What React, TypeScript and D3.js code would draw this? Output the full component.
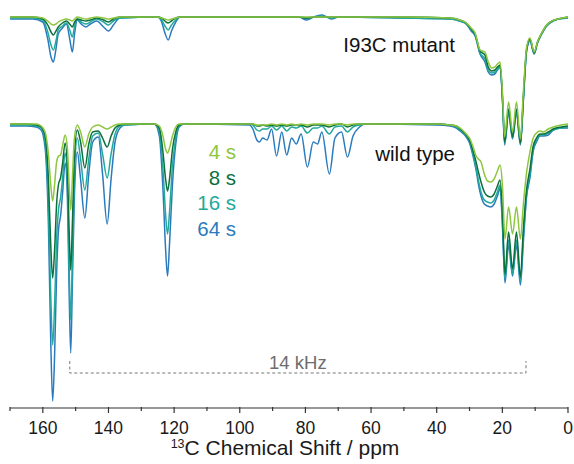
import React from 'react';
import * as d3 from 'd3';

// ---- series meta ----
const SERIES_LABELS = ['4 s', '8 s', '16 s', '64 s'];
const SERIES_COLORS = ['#8dc63f', '#0c703c', '#22a99b', '#2a7bbd'];

// ---- wild type (ppm grid and signal depth per recovery time) ----
const WT_PPM = [170, 165, 162, 160.5, 159.3, 158.3, 157.6, 157.0, 156.4, 155.8, 155.2, 154.6, 154.0, 153.2, 152.5, 152.0, 151.5, 151.0, 150.4, 149.5, 148.5, 147.2, 146.0, 144.8, 143.1, 141.8, 140.4, 139.2, 138, 136.5, 135, 126, 124.5, 123.4, 122.6, 122.0, 121.4, 120.5, 119.5, 118.5, 117, 97, 96, 94.8, 94.0, 93.0, 91.7, 90.3, 88.8, 87.2, 85.7, 84.2, 82.8, 81.3, 79.4, 77.6, 76.3, 75.0, 72.7, 71.0, 69.0, 67.2, 65.5, 63.5, 62, 40, 36, 34, 32.5, 31, 30, 29, 28, 27.3, 26.5, 25.5, 24.5, 23.5, 22.5, 21.5, 20.7, 20.0, 19.2, 18.1, 16.9, 15.7, 14.5, 13.6, 12.6, 11.6, 10.6, 9.6, 8.5, 7.5, 6.0, 4.5, 2, 0];
const WT_4S = [0, 0, 0, 2, 8, 30, 60, 77, 60, 38, 32, 31, 22, 11, 25, 60, 86, 55, 15, 1, 8, 23, 10, 3, 1, 3, 5, 3, 1, 0, 0, 0, 2, 12, 25, 29, 24, 12, 3, 0, 0, 0, 0, 1, 1, 1, 1, 0, 1, 0, 1, 0, 1, 0, 1, 0, 0, 0, 1, 0, 0, 1, 0, 0, 0, 0, 1, 2, 5, 10, 14, 22, 32, 35, 38, 50, 57, 58, 55, 47, 41, 60, 115, 83, 110, 83, 115, 80, 48, 28, 14, 9, 7, 8, 5, 3, 1, 0];
const WT_8S = [0, 0, 1, 3, 12, 55, 120, 154, 125, 80, 60, 54, 40, 19, 45, 105, 146, 100, 35, 6, 18, 44, 20, 8, 7, 14, 23, 12, 4, 1, 0, 0, 4, 28, 55, 67, 55, 25, 8, 1, 0, 0, 0, 2, 2, 1, 2, 1, 2, 1, 2, 1, 1, 1, 3, 1, 1, 1, 3, 1, 0, 3, 1, 0, 0, 0, 1, 2, 6, 11, 16, 26, 38, 48, 58, 68, 72, 73, 70, 62, 56, 85, 150, 108, 145, 108, 153, 105, 65, 45, 22, 14, 10, 10, 8, 5, 3, 2];
const WT_16S = [1, 1, 2, 4, 18, 80, 170, 221, 180, 115, 85, 74, 55, 29, 60, 140, 196, 135, 55, 14, 35, 66, 35, 12, 9, 30, 54, 30, 10, 2, 1, 0, 8, 45, 90, 110, 88, 42, 14, 2, 0, 0, 1, 6, 7, 5, 5, 2, 6, 2, 7, 3, 4, 2, 9, 4, 4, 2, 10, 3, 2, 8, 3, 1, 0, 0, 1, 3, 7, 12, 17, 29, 44, 56, 68, 76, 78, 79, 76, 68, 61, 95, 155, 116, 150, 116, 157, 112, 70, 50, 25, 16, 11, 11, 9, 6, 4, 3];
const WT_64S = [2, 2, 3, 6, 24, 100, 215, 277, 230, 150, 105, 92, 70, 39, 75, 165, 229, 160, 75, 28, 55, 94, 50, 18, 13, 50, 100, 55, 18, 4, 1, 0, 12, 65, 125, 152, 120, 60, 20, 3, 0, 1, 5, 16, 18, 14, 16, 5, 32, 8, 31, 14, 20, 10, 43, 18, 20, 8, 50, 14, 8, 33, 12, 3, 0, 1, 2, 4, 8, 13, 19, 31, 46, 60, 72, 80, 82, 83, 80, 72, 64, 100, 159, 121, 152, 121, 161, 118, 72, 54, 27, 18, 12, 12, 11, 6, 4, 4];

// ---- I93C mutant ----
const MUT_PPM = [170, 163, 160, 158.5, 157.5, 156.8, 156.0, 155.3, 154.0, 152.8, 151.8, 151.0, 150.3, 149.5, 148.3, 146.9, 145.5, 143.6, 141.5, 140.0, 138.5, 136.5, 125, 123.8, 122.8, 121.8, 120.8, 119.5, 118.2, 82, 79.6, 77.5, 75, 73.5, 72, 70, 50, 36, 33, 31, 29.5, 28.3, 26.8, 25.3, 24.3, 23.3, 22.3, 21.5, 20.7, 19.9, 19.3, 18.1, 16.9, 15.7, 14.5, 13.6, 12.6, 11.6, 10.3, 9.3, 8, 6.5, 5.5, 3, 0];
const MUT_4S = [0, 0, 1, 4, 7, 8, 7, 5, 3, 2, 3, 4, 2, 0, 1, 2, 1, 0, 1, 2, 1, 0, 0, 1, 2, 3, 2, 1, 0, 0, 0, 0, 0, 0, 0, 0, 0, 1, 3, 6, 11, 16, 33, 35, 45, 51, 50, 47, 45, 80, 120, 85, 115, 85, 122, 75, 30, 21, 35, 25, 16, 8, 5, 2, 0];
const MUT_8S = [0, 0, 2, 8, 15, 18, 14, 10, 6, 4, 7, 10, 5, 2, 3, 4, 3, 1, 3, 5, 2, 0, 0, 1, 4, 6, 4, 1, 0, 0, 1, 0, 0, 0, 0, 0, 0, 1, 3, 6, 12, 17, 34, 38, 50, 54, 53, 50, 48, 84, 125, 92, 120, 92, 126, 80, 32, 22, 36, 25, 16, 8, 5, 2, 0];
const MUT_16S = [1, 1, 3, 15, 28, 33, 24, 13, 9, 6, 13, 20, 9, 2, 5, 7, 5, 2, 5, 8, 4, 1, 0, 3, 9, 13, 8, 3, 0, 0, 1, 0, -1, 0, 1, 0, 1, 2, 4, 7, 13, 18, 36, 42, 53, 56, 55, 52, 49, 86, 126, 94, 121, 94, 127, 82, 33, 23, 36, 26, 17, 9, 6, 2, 1];
const MUT_64S = [2, 2, 5, 22, 40, 45, 32, 17, 11, 7, 22, 35, 16, 3, 7, 10, 7, 4, 10, 14, 8, 1, 0, 5, 16, 23, 14, 5, 0, 0, 3, 0, -2, 0, 2, 0, 1, 2, 4, 7, 14, 19, 37, 45, 55, 58, 57, 53, 50, 88, 128, 96, 122, 96, 128, 84, 34, 24, 37, 26, 17, 9, 6, 2, 1];

// ---- axis ----
const MAJOR_TICKS = [160, 140, 120, 100, 80, 60, 40, 20, 0];
const MINOR_TICKS = [170, 150, 130, 110, 90, 70, 50, 30, 10];
const SIDEBAND_PPM = [151.8, 12.8];

const W = 574;
const H = 464;
const FONT = 'Arial, "Liberation Sans", Helvetica, sans-serif';

const x = d3.scaleLinear().domain([170, 0]).range([10, 568]);
const y = d3.scaleLinear().domain([0, 300]).range([0, 300]);

const WT_SERIES = [WT_4S, WT_8S, WT_16S, WT_64S];
const MUT_SERIES = [MUT_4S, MUT_8S, MUT_16S, MUT_64S];

function makePath(ppm: number[], vals: number[]) {
  const pts = ppm.map((p, i) => [p, vals[i]] as [number, number]);
  const line = d3
    .line<[number, number]>()
    .x((d) => x(d[0]))
    .y((d) => y(d[1]))
    .curve(d3.curveMonotoneX);
  return line(pts) || '';
}

function Group({ ppm, series, baseY }: { ppm: number[]; series: number[][]; baseY: number }) {
  const order = [3, 2, 1, 0];
  return (
    <g transform={`translate(0,${baseY})`}>
      {order.map((i) => (
        <path
          key={i}
          d={makePath(ppm, series[i])}
          fill="none"
          stroke={SERIES_COLORS[i]}
          strokeWidth={1.5}
          strokeLinejoin="round"
        />
      ))}
    </g>
  );
}

export default function App() {
  const axisY = 408;
  const sbY = 373;
  return (
    <svg
      width={W}
      height={H}
      style={{ position: 'absolute', left: 0, top: 0, background: '#fff' }}
      fontFamily={FONT}
    >
      <rect width={W} height={H} fill="#fff" />
      <Group ppm={MUT_PPM} series={MUT_SERIES} baseY={17} />
      <Group ppm={WT_PPM} series={WT_SERIES} baseY={124} />

      <text x={455} y={52} fontSize={20.5} textAnchor="end" fill="#111">I93C mutant</text>
      <text x={455} y={161} fontSize={20.5} textAnchor="end" fill="#111">wild type</text>

      {SERIES_LABELS.map((s, i) => (
        <text key={s} x={236} y={159 + i * 25.5} fontSize={20.5} textAnchor="end" fill={SERIES_COLORS[i]}>
          {s}
        </text>
      ))}

      {/* sideband separation */}
      <path
        d={`M${x(SIDEBAND_PPM[0])},${sbY - 12}V${sbY}H${x(SIDEBAND_PPM[1])}V${sbY - 12}`}
        fill="none"
        stroke="#777"
        strokeWidth={1}
        strokeDasharray="3,2.5"
      />
      <text
        x={(x(SIDEBAND_PPM[0]) + x(SIDEBAND_PPM[1])) / 2}
        y={368.5}
        fontSize={18.5}
        textAnchor="middle"
        fill="#6d6d6d"
      >
        14 kHz
      </text>

      {/* axis */}
      <line x1={x(170)} x2={x(0)} y1={axisY} y2={axisY} stroke="#333" strokeWidth={1.2} />
      {MAJOR_TICKS.map((t) => (
        <g key={t}>
          <line x1={x(t)} x2={x(t)} y1={axisY - 1} y2={axisY + 5} stroke="#333" strokeWidth={1.2} />
          <text x={x(t)} y={433.5} fontSize={17.5} textAnchor="middle" fill="#1a1a1a">
            {t}
          </text>
        </g>
      ))}
      {MINOR_TICKS.map((t) => (
        <line key={t} x1={x(t)} x2={x(t)} y1={axisY - 1} y2={axisY + 3} stroke="#333" strokeWidth={1.2} />
      ))}
      <text x={285} y={455} fontSize={21} textAnchor="middle" fill="#1a1a1a">
        <tspan fontSize={12.5} dy={-7.5}>13</tspan>
        <tspan dy={7.5}>C Chemical Shift / ppm</tspan>
      </text>
    </svg>
  );
}
